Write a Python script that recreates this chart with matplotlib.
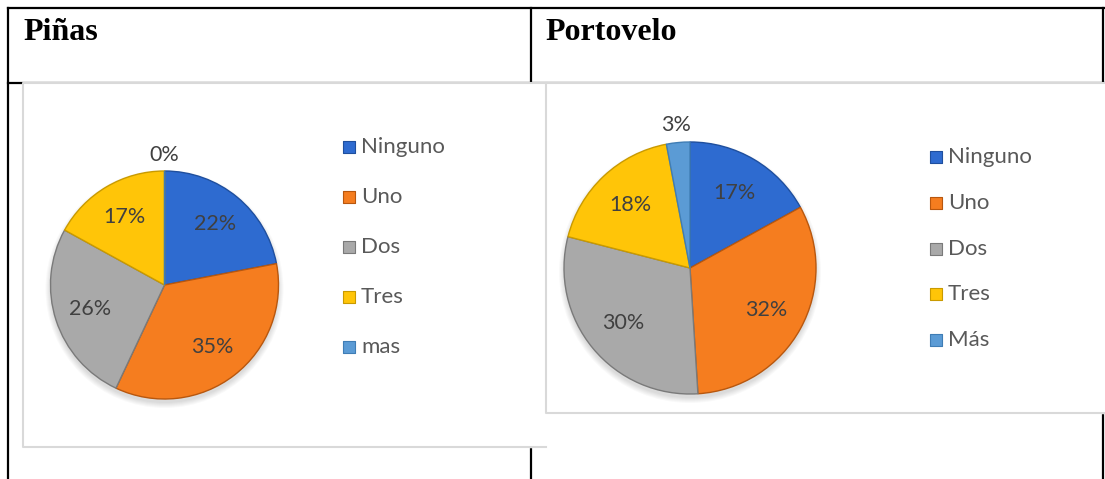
import numpy as np
import matplotlib.pyplot as plt
from matplotlib.patches import Circle

# ── Data ──────────────────────────────────────────────────────────────────────
titles = ["Piñas", "Portovelo"]
categories_pinas = ["Ninguno", "Uno", "Dos", "Tres", "mas"]
categories_portovelo = ["Ninguno", "Uno", "Dos", "Tres", "Más"]
values_pinas = [22, 35, 26, 17, 0]
values_portovelo = [17, 32, 30, 18, 3]

colors = ["#2E6BD0", "#F57D1F", "#A9A9A9", "#FFC508", "#5B9BD5"]
edges = ["#1F4F9E", "#B8570E", "#7A7A7A", "#C99A00", "#3F7DB5"]

# ── Layout (pixels) ───────────────────────────────────────────────────────────
W, H = 1105, 479
fig = plt.figure(figsize=(W / 100, H / 100), dpi=100)
ax = fig.add_axes([0, 0, 1, 1])


def Y(y):
    return H - y


LBL_FONT = "Lato"
BLACK_LW = 1.6
GRAY = "#D9D9D9"

# table lines
ax.plot([8, 1104], [Y(8), Y(8)], color="black", lw=BLACK_LW)
ax.plot([8, 8], [Y(8), Y(H + 2)], color="black", lw=BLACK_LW)
ax.plot([531, 531], [Y(8), Y(H + 2)], color="black", lw=BLACK_LW)
ax.plot([1103, 1103], [Y(8), Y(H + 2)], color="black", lw=BLACK_LW)
ax.plot([8, 1104], [Y(83), Y(83)], color="black", lw=BLACK_LW)

# header texts
ax.text(23, Y(40), titles[0], family="Liberation Serif", fontweight="bold",
        fontsize=23, ha="left", va="baseline")
ax.text(545, Y(40), titles[1], family="Liberation Serif", fontweight="bold",
        fontsize=23, ha="left", va="baseline")

# chart boxes (white, covering table lines)
ax.fill([23, 546, 546, 23], [Y(83), Y(83), Y(447), Y(447)], color="white", zorder=2)
ax.plot([546, 23, 23, 546], [Y(83), Y(83), Y(447), Y(447)], color=GRAY, lw=1.5, zorder=2)
ax.fill([546, 1110, 1110, 546], [Y(83), Y(83), Y(413), Y(413)], color="white", zorder=3)
ax.plot([1110, 546, 546, 1110], [Y(83), Y(83), Y(413), Y(413)], color=GRAY, lw=1.5, zorder=3)


def draw_pie(values, labels, cx, cy, R, leg_x, leg_y0, leg_dy):
    # soft shadow
    for i in range(6):
        ax.add_patch(Circle((cx, Y(cy) - 4), R + 5 - i, color="black",
                            alpha=0.025, lw=0, zorder=4))
    wedges, _ = ax.pie(values, center=(cx, Y(cy)), radius=R, startangle=90,
                       counterclock=False, colors=colors, normalize=True,
                       wedgeprops=dict(linewidth=1.0, zorder=5))
    for w, ec in zip(wedges, edges):
        w.set_edgecolor(ec)
        w.set_zorder(5)
    total = sum(values)
    for w, v in zip(wedges, values):
        ang = np.deg2rad((w.theta1 + w.theta2) / 2)
        d = 1.14 if v / total < 0.05 else 0.69
        ax.text(cx + d * R * np.cos(ang), Y(cy) + d * R * np.sin(ang),
                f"{round(100 * v / total)}%", family=LBL_FONT, fontsize=15.5,
                color="#404040", ha="center", va="center", zorder=6)
    # legend
    for i, (lab, c, ec) in enumerate(zip(labels, colors, edges)):
        yy = Y(leg_y0 + i * leg_dy)
        ax.scatter([leg_x], [yy], marker="s", s=72, color=c, edgecolor=ec,
                   linewidth=0.8, zorder=6)
        ax.text(leg_x + 12, yy, lab, family=LBL_FONT, fontsize=16,
                color="#595959", ha="left", va="center", zorder=6)


draw_pie(values_pinas, categories_pinas, 164.5, 285, 114, 349, 147, 50)
draw_pie(values_portovelo, categories_portovelo, 690, 268, 126, 936, 157, 45.8)

ax.set_xlim(0, W)
ax.set_ylim(0, H)
ax.set_aspect("auto")
ax.axis("off")

plt.savefig("out.png", dpi=100)
